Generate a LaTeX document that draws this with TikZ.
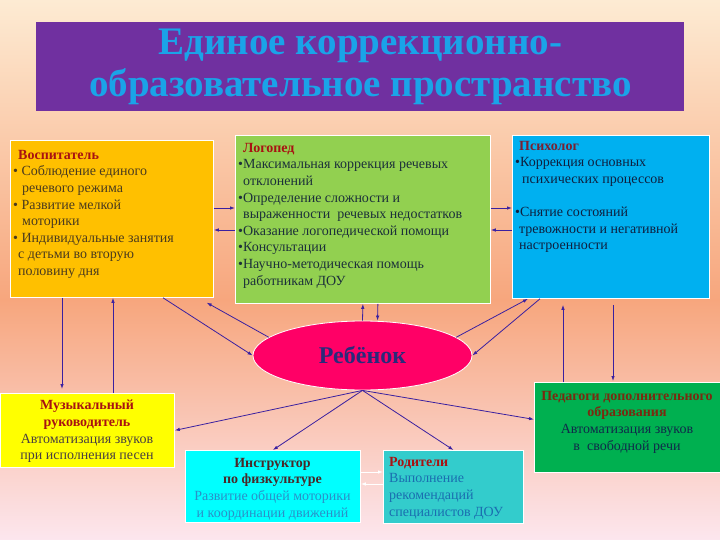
\documentclass[tikz,border=0pt]{standalone}
\usepackage{fontspec}
\setmainfont{Liberation Serif}
\usetikzlibrary{positioning,arrows.meta,shapes.geometric}

\definecolor{peach}{HTML}{FDEBD3}
\definecolor{apricot}{HTML}{FBCFAE}
\definecolor{salmon}{HTML}{F7A67D}
\definecolor{melon}{HTML}{F9C29B}
\definecolor{blush}{HTML}{FCE6EE}
\definecolor{plum}{HTML}{7030A0}
\definecolor{sky}{HTML}{1AA3E8}
\definecolor{amber}{HTML}{FFC000}
\definecolor{lime}{HTML}{92D050}
\definecolor{azure}{HTML}{00B0F0}
\definecolor{rose}{HTML}{FF0066}
\definecolor{lemon}{HTML}{FFFF00}
\definecolor{aqua}{HTML}{00FFFF}
\definecolor{lagoon}{HTML}{33CCCC}
\definecolor{grass}{HTML}{00B050}
\definecolor{ink}{HTML}{3A20A0}
\definecolor{navy}{HTML}{2A2A7A}
\definecolor{headred}{HTML}{A81212}
\definecolor{psyred}{HTML}{7A2030}
\definecolor{instdark}{HTML}{4A2828}
\definecolor{pedred}{HTML}{7A2A10}

\newcommand\hd[2][headred]{\textcolor{#1}{\textbf{#2}}}

\tikzset{
  box/.style={draw=white, line width=0.8pt, anchor=north west, inner sep=0pt},
  txt/.style={inner sep=0pt, font=\fontsize{14}{16.6}\selectfont},
  link/.style={ink, line width=0.8pt, -{Latex[length=5pt,width=3.5pt]}},
}

\begin{document}
\begin{tikzpicture}[x=1pt,y=-1pt]
  \useasboundingbox (0,0) rectangle (720,540);
  % background
  \shade[top color=peach, middle color=apricot, bottom color=salmon] (0,0) rectangle (720,300);
  \shade[top color=salmon, middle color=melon, bottom color=blush] (0,299.5) rectangle (720,540);

  % title
  \node[box, draw=none, fill=plum, minimum width=648pt, minimum height=89pt] (title) at (36,22) {};
  \node[font=\fontsize{39}{42}\selectfont\bfseries, text=sky, align=center] (titleT)
    at (title.center) {Единое коррекционно-\\образовательное пространство};

  % boxes
  \node[box, fill=amber, minimum width=203pt, minimum height=157pt] (vosp) at (10,140) {};
  \node[box, fill=lime, minimum width=255pt, minimum height=168pt] (logo) at (235,135) {};
  \node[box, fill=azure, minimum width=197pt, minimum height=163pt] (psy) at (512,135) {};
  \node[box, fill=lemon, minimum width=174pt, minimum height=74pt] (mus) at (0,393) {};
  \node[box, fill=aqua, minimum width=175pt, minimum height=72pt] (inst) at (185,450) {};
  \node[box, fill=lagoon, minimum width=140pt, minimum height=73pt] (rod) at (383,450) {};
  \node[box, fill=grass, minimum width=186pt, minimum height=90pt] (ped) at (534,382) {};
  \node[ellipse, draw=white, line width=0.8pt, fill=rose, minimum width=219pt, minimum height=69pt,
    inner sep=0pt, text=navy, font=\fontsize{24}{24}\selectfont\bfseries] (kid) at (362.5,355.5) {Ребёнок};

  % texts
  \node[txt, anchor=north west, align=left, text={rgb,255:red,75;green,59;blue,30}] (vospT) at (13,150)
    {\hd{\hspace*{5pt}Воспитатель}\\
     • Соблюдение единого\\
     \hspace*{9pt}речевого режима\\
     • Развитие мелкой\\
     \hspace*{9pt}моторики\\
     • Индивидуальные занятия\\
     \hspace*{5pt}с детьми во вторую\\
     \hspace*{5pt}половину дня};
  \node[txt, anchor=north west, align=left, text={rgb,255:red,28;green,48;blue,58}] (logoT) at (238,143)
    {\hd{\hspace*{5pt}Логопед}\\
     •Максимальная коррекция речевых\\
     \hspace*{5pt}отклонений\\
     •Определение сложности и\\
     \hspace*{5pt}выраженности \ речевых недостатков\\
     •Оказание логопедической помощи\\
     •Консультации\\
     •Научно-методическая помощь\\
     \hspace*{5pt}работникам ДОУ};
  \node[txt, anchor=north west, align=left, text={rgb,255:red,15;green,32;blue,64}] (psyT) at (515,141)
    {\hd[psyred]{\hspace*{4pt}Психолог}\\
     •Коррекция основных\\
     \hspace*{7pt}психических процессов\\
     \mbox{}\\
     •Снятие состояний\\
     \hspace*{4pt}тревожности и негативной\\
     \hspace*{4pt}настроенности};
  \node[txt, anchor=north, align=center, text={rgb,255:red,74;green,64;blue,64}] (musT) at (87,400)
    {\hd{Музыкальный}\\ \hd{руководитель}\\ Автоматизация звуков\\ при исполнения песен};
  \node[txt, anchor=north, align=center, text={rgb,255:red,42;green,144;blue,200}] (instT) at (272.5,458)
    {\hd[instdark]{Инструктор}\\ \hd[instdark]{по физкультуре}\\ Развитие общей моторики\\ и координации движений};
  \node[txt, anchor=north west, align=left, text={rgb,255:red,26;green,110;blue,176}] (rodT) at (389,457)
    {\hd{Родители}\\ Выполнение\\ рекомендаций\\ специалистов ДОУ};
  \node[txt, anchor=north, align=center, text={rgb,255:red,16;green,42;blue,74}] (pedT) at (627,391)
    {\hd[pedred]{Педагоги дополнительного}\\ \hd[pedred]{образования}\\ Автоматизация звуков\\ в \ свободной речи};

  % links between the top boxes
  \draw[link] (vosp.east |- 0,208) -- (logo.west |- 0,208);
  \draw[link] (logo.west |- 0,230) -- (vosp.east |- 0,230);
  \draw[link] (logo.east |- 0,208) -- (psy.west |- 0,208);
  \draw[link] (psy.west |- 0,230) -- (logo.east |- 0,230);

  % links with the child
  \draw[link] (vosp.south -| 163,0) -- (kid.west);
  \draw[link, shorten >=10pt] (kid.169) -- (vosp.south -| 198,0);
  \draw[link] (kid.11) -- (psy.south -| 528,0);
  \draw[link] (psy.south -| 540,0) -- (kid.east);
  \draw[link] (kid.north) -- (logo.south);
  \draw[link] ([xshift=15pt]logo.south) -- ([xshift=15pt]kid.north);
  \foreach \t in {mus.east, inst.north, rod.north}
    \draw[link] (kid.south) -- (\t);
  \draw[link] (kid.south) -- ([yshift=8pt]ped.west);

  % vertical links
  \draw[link, shorten >=4pt] (vosp.south -| 62,0) -- (mus.north -| 62,0);
  \draw[link] (mus.north -| 113,0) -- (vosp.south -| 113,0);
  \draw[link, shorten >=6pt] (ped.north -| 563,0) -- (psy.south -| 563,0);
  \draw[link, shorten <=6pt, shorten >=1pt] (psy.south -| 613,0) -- (ped.north -| 613,0);

  % pale links at the bottom
  \draw[link, white] (inst.east |- 0,472) -- (rod.west |- 0,472);
  \draw[link, white] (rod.west |- 0,484) -- (inst.east |- 0,484);
\end{tikzpicture}
\end{document}
